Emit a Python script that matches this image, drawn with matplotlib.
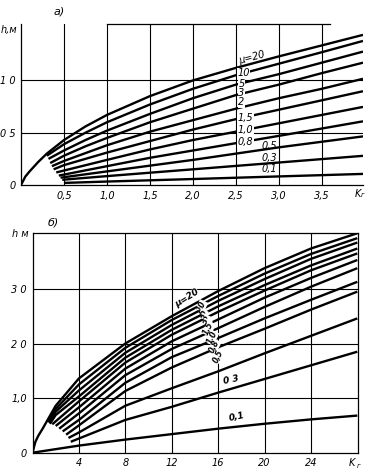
import numpy as np
import matplotlib
matplotlib.use("Agg")
import matplotlib.pyplot as plt

# ---- panel a) : h, m versus K_r, parameter mu ----
mu_a = ["20", "10", "5", "3", "2", "1,5", "1,0", "0,8", "0,5", "0,3", "0,1"]
k_a = [
    [0, 0.05, 0.1, 0.2, 0.3, 0.5, 0.75, 1.0, 1.5, 2.0, 2.5, 3.0, 3.5, 3.98],
    [0.30, 0.5, 0.75, 1.0, 1.5, 2.0, 2.5, 3.0, 3.5, 3.98],
    [0.32, 0.5, 0.75, 1.0, 1.5, 2.0, 2.5, 3.0, 3.5, 3.98],
    [0.34, 0.5, 0.75, 1.0, 1.5, 2.0, 2.5, 3.0, 3.5, 3.98],
    [0.36, 0.5, 1.0, 1.5, 2.0, 2.5, 3.0, 3.5, 3.98],
    [0.38, 0.5, 1.0, 1.5, 2.0, 2.5, 3.0, 3.5, 3.98],
    [0.41, 1.0, 1.5, 2.0, 2.5, 3.0, 3.5, 3.98],
    [0.44, 1.0, 1.5, 2.0, 2.5, 3.0, 3.5, 3.98],
    [0.46, 1.0, 2.0, 3.0, 3.98],
    [0.48, 1.0, 2.0, 3.0, 3.98],
    [0.50, 1.0, 2.0, 3.0, 3.98],
]
h_a = [
    [0, 0.08, 0.13, 0.22, 0.30, 0.43, 0.56, 0.67, 0.85, 1.0, 1.12, 1.23, 1.335, 1.436],
    [0.28, 0.39, 0.50, 0.60, 0.77, 0.92, 1.05, 1.16, 1.27, 1.378],
    [0.25, 0.33, 0.43, 0.52, 0.68, 0.83, 0.96, 1.06, 1.17, 1.276],
    [0.21, 0.28, 0.37, 0.45, 0.60, 0.73, 0.86, 0.96, 1.07, 1.17],
    [0.18, 0.23, 0.38, 0.51, 0.62, 0.73, 0.83, 0.92, 1.016],
    [0.15, 0.19, 0.31, 0.42, 0.53, 0.63, 0.72, 0.81, 0.897],
    [0.12, 0.24, 0.34, 0.43, 0.51, 0.59, 0.67, 0.747],
    [0.09, 0.18, 0.26, 0.33, 0.40, 0.47, 0.54, 0.609],
    [0.07, 0.13, 0.24, 0.36, 0.465],
    [0.05, 0.085, 0.15, 0.215, 0.279],
    [0.02, 0.033, 0.057, 0.082, 0.106],
]

# ---- panel b) ----
mu_b = ["\u03bc=20", "10", "5", "3", "2", "1,5", "1,0", "0,8", "0,5", "0 3", "0,1"]
k_b = [
    [0, 0.25, 0.5, 0.9, 1.3, 2, 4, 8, 12, 16, 20, 24, 28],
    [1.3, 2, 4, 8, 12, 16, 20, 24, 28],
    [1.4, 2, 4, 8, 12, 16, 20, 24, 28],
    [1.5, 2, 4, 8, 12, 16, 20, 24, 28],
    [1.7, 4, 8, 12, 16, 20, 24, 28],
    [2.0, 4, 8, 12, 16, 20, 24, 28],
    [2.3, 4, 8, 12, 16, 20, 24, 28],
    [2.6, 4, 8, 12, 16, 20, 24, 28],
    [2.9, 4, 8, 12, 16, 20, 24, 28],
    [3.1, 4, 8, 12, 16, 20, 24, 28],
    [3.3, 4, 8, 12, 16, 20, 24, 28],
    [0, 4, 8, 12, 16, 20, 24, 28],
]
h_b = [
    [0, 0.2, 0.31, 0.45, 0.6, 0.86, 1.36, 2.0, 2.5, 2.96, 3.38, 3.74, 4.02],
    [0.57, 0.8, 1.25, 1.92, 2.43, 2.87, 3.28, 3.64, 3.93],
    [0.55, 0.75, 1.14, 1.83, 2.34, 2.78, 3.18, 3.55, 3.85],
    [0.53, 0.69, 1.03, 1.74, 2.25, 2.68, 3.07, 3.43, 3.74],
    [0.52, 0.94, 1.65, 2.16, 2.58, 2.97, 3.34, 3.65],
    [0.49, 0.83, 1.54, 2.04, 2.44, 2.84, 3.20, 3.53],
    [0.44, 0.72, 1.42, 1.90, 2.28, 2.67, 3.04, 3.38],
    [0.39, 0.60, 1.28, 1.75, 2.10, 2.46, 2.80, 3.13],
    [0.33, 0.50, 1.13, 1.56, 1.93, 2.27, 2.62, 2.95],
    [0.27, 0.37, 0.86, 1.18, 1.49, 1.82, 2.14, 2.46],
    [0.20, 0.26, 0.60, 0.84, 1.10, 1.35, 1.60, 1.85],
    [0, 0.13, 0.24, 0.34, 0.44, 0.53, 0.61, 0.68],
]

xt_a = [0.5, 1.0, 1.5, 2.0, 2.5, 3.0, 3.5]
xt_a_lab = ["0,5", "1,0", "1,5", "2,0", "2,5", "3,0", "3,5"]
yt_a = [0, 0.5, 1.0]
yt_a_lab = ["0", "0 5", "1 0"]
xt_b = [4, 8, 12, 16, 20, 24]
xt_b_lab = ["4", "8", "12", "16", "20", "24"]
yt_b = [0, 1, 2, 3]
yt_b_lab = ["0", "1,0", "2 0", "3 0"]

plt.rcParams["font.family"] = "DejaVu Sans"
fig = plt.figure(figsize=(3.67, 4.74), dpi=100)

lw = 1.7
txt = dict(fontsize=7, style="italic", color="k")
wbox = dict(facecolor="white", edgecolor="none", pad=0.3)

# panel a
ax = fig.add_axes([21 / 367, 1 - 185 / 474, 342 / 367, 161 / 474])
ax.set_xlim(0, 3.98)
ax.set_ylim(0, 1.54)
for x in xt_a:
    ax.axvline(x, color="k", lw=0.8, zorder=1)
for y in [0.5, 1.0]:
    ax.axhline(y, color="k", lw=0.8, zorder=1)
for k, h in zip(k_a, h_a):
    ax.plot(k, h, color="k", lw=lw, solid_capstyle="butt", zorder=2)
ax.set_xticks(xt_a)
ax.set_xticklabels(xt_a_lab, **txt)
ax.set_yticks(yt_a)
ax.set_yticklabels(yt_a_lab, **txt)
ax.tick_params(length=0, pad=4)
ax.spines["right"].set_visible(False)
ax.spines["top"].set_bounds(1.0, 3.6)
for s in ax.spines.values():
    s.set_linewidth(0.9)
ax.text(-0.04, 1.48, "h,\u043c", ha="right", va="center", **txt)
ax.text(3.92, -0.035, "K", ha="center", va="top", **txt)
ax.text(3.98, -0.07, "\u0433", ha="center", va="top", fontsize=5, style="italic")
ax.text(0.45, 1.66, "\u0430)", ha="center", va="center", fontsize=8, style="italic")

pos_a = [(2.52, 1.22, 15), (2.52, 1.07, 0), (2.53, 0.97, 0), (2.53, 0.88, 0), (2.53, 0.79, 0),
         (2.52, 0.64, 0), (2.52, 0.53, 0), (2.52, 0.41, 0), (2.8, 0.37, 0), (2.8, 0.26, 0),
         (2.8, 0.15, 0)]
for i, (lab, (x, y, r)) in enumerate(zip(mu_a, pos_a)):
    s = "\u03bc=" + lab if i == 0 else lab
    t = ax.text(x, y, s, ha="left", va="center", rotation=r, zorder=3, **txt)
    if 0 < i < 8:
        t.set_bbox(wbox)

# panel b
bx = fig.add_axes([32.5 / 367, 1 - 452.7 / 474, 325.5 / 367, 220 / 474])
bx.set_xlim(0, 28.06)
bx.set_ylim(0, 4.03)
for x in xt_b:
    bx.axvline(x, color="k", lw=0.8, zorder=1)
for y in [1, 2, 3]:
    bx.axhline(y, color="k", lw=0.8, zorder=1)
for k, h in zip(k_b, h_b):
    bx.plot(k, h, color="k", lw=lw, solid_capstyle="butt", zorder=2)
bx.set_xticks(xt_b)
bx.set_xticklabels(xt_b_lab, **txt)
bx.set_yticks(yt_b)
bx.set_yticklabels(yt_b_lab, **txt)
bx.tick_params(length=0, pad=4)
for s in bx.spines.values():
    s.set_linewidth(0.9)
bx.text(-0.3, 4.0, "h \u043c", ha="right", va="center", **txt)
bx.text(27.5, -0.1, "K", ha="center", va="top", **txt)
bx.text(28.1, -0.18, "\u0433", ha="center", va="top", fontsize=5, style="italic")
bx.text(1.8, 4.22, "\u0431)", ha="center", va="center", fontsize=8, style="italic")

pos_b = [(13.3, 2.83, 32), (14.6, 2.69, 65), (14.75, 2.57, 65), (14.95, 2.48, 65), (15.1, 2.39, 65),
         (15.2, 2.27, 65), (15.5, 2.11, 65), (15.7, 1.95, 65), (16.0, 1.77, 65),
         (17.1, 1.33, 12), (17.6, 0.66, 12)]
for i, (lab, (x, y, r)) in enumerate(zip(mu_b, pos_b)):
    fs = 6.5 if i in (0, 9, 10) else 5.5
    t = bx.text(x, y, lab, ha="center", va="center", rotation=r, zorder=3,
                fontsize=fs, style="italic", weight="bold")
    if i < 9:
        t.set_bbox(dict(facecolor="white", edgecolor="none", pad=0.05))

fig.savefig("out.png", dpi=100)
